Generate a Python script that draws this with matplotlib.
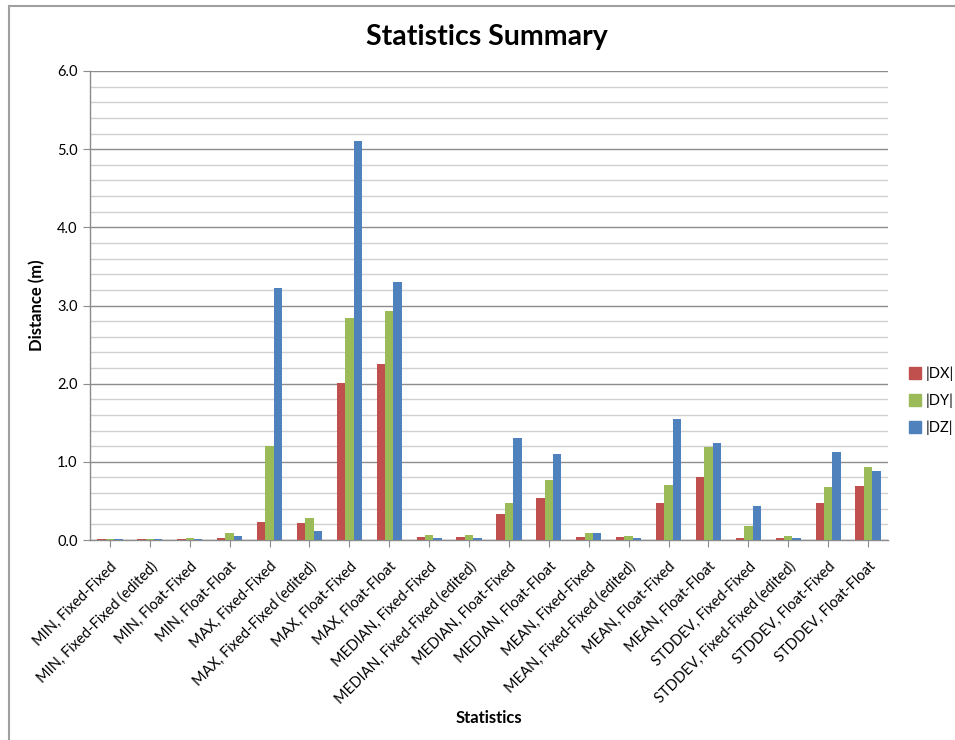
import matplotlib
matplotlib.use("Agg")
import matplotlib.pyplot as plt
from matplotlib.ticker import MultipleLocator, FormatStrFormatter
from matplotlib.patches import Rectangle
from matplotlib.lines import Line2D
import numpy as np

plt.rcParams['font.family'] = ['Lato', 'DejaVu Sans']

categories = [
    "MIN, Fixed-Fixed", "MIN, Fixed-Fixed (edited)", "MIN, Float-Fixed", "MIN, Float-Float",
    "MAX, Fixed-Fixed", "MAX, Fixed-Fixed (edited)", "MAX, Float-Fixed", "MAX, Float-Float",
    "MEDIAN, Fixed-Fixed", "MEDIAN, Fixed-Fixed (edited)", "MEDIAN, Float-Fixed", "MEDIAN, Float-Float",
    "MEAN, Fixed-Fixed", "MEAN, Fixed-Fixed (edited)", "MEAN, Float-Fixed", "MEAN, Float-Float",
    "STDDEV, Fixed-Fixed", "STDDEV, Fixed-Fixed (edited)", "STDDEV, Float-Fixed", "STDDEV, Float-Float",
]
dx = [0.01, 0.01, 0.01, 0.03, 0.23, 0.22, 2.01, 2.25, 0.035, 0.035, 0.33, 0.54,
      0.04, 0.04, 0.47, 0.80, 0.03, 0.03, 0.47, 0.69]
dy = [0.01, 0.01, 0.03, 0.09, 1.20, 0.28, 2.84, 2.93, 0.06, 0.06, 0.47, 0.77,
      0.09, 0.055, 0.70, 1.185, 0.18, 0.045, 0.68, 0.94]
dz = [0.01, 0.01, 0.01, 0.055, 3.23, 0.12, 5.10, 3.30, 0.02, 0.02, 1.30, 1.10,
      0.09, 0.02, 1.55, 1.245, 0.435, 0.02, 1.12, 0.88]
series_names = ["|DX|", "|DY|", "|DZ|"]
colors = ["#C0504D", "#9BBB59", "#4F81BD"]

fig = plt.figure(figsize=(9.55, 7.40), dpi=100)
fig.patch.set_facecolor("white")
W, H = 955, 740
ax = fig.add_axes([90 / W, 1 - 540 / H, (888 - 90) / W, (540 - 71) / H])

x = np.arange(len(categories))
bw = 0.21
for i, (vals, c, name) in enumerate(zip([dx, dy, dz], colors, series_names)):
    ax.bar(x + (i - 1) * bw, vals, width=bw, color=c, label=name, zorder=3,
           edgecolor='none')

ax.set_xlim(-0.5, len(categories) - 0.5)
ax.set_ylim(0, 6.0)
ax.yaxis.set_major_locator(MultipleLocator(1.0))
ax.yaxis.set_minor_locator(MultipleLocator(0.2))
ax.yaxis.set_major_formatter(FormatStrFormatter('%.1f'))
ax.grid(axis='y', which='major', color='#8c8c8c', linewidth=1.0, zorder=0)
ax.grid(axis='y', which='minor', color='#d0d0d0', linewidth=1.0, zorder=0)
ax.set_axisbelow(True)
for s in ['top', 'right']:
    ax.spines[s].set_visible(False)
for s in ['left', 'bottom']:
    ax.spines[s].set_color('#8c8c8c')
    ax.spines[s].set_linewidth(1.0)
ax.tick_params(axis='y', which='major', length=5, color='#8c8c8c', labelsize=10.5, pad=4)
ax.tick_params(axis='y', which='minor', length=0)
ax.tick_params(axis='x', length=5, color='#8c8c8c', labelsize=10.5, pad=9)
ax.set_xticks(x)
ax.set_xticklabels(categories, rotation=45, ha='right', rotation_mode='anchor')

ax.set_ylabel("Distance (m)", fontsize=12, fontweight='bold', labelpad=8)
fig.text(489 / W, 1 - 718 / H, "Statistics", fontsize=12, fontweight='bold',
         ha='center', va='center')
fig.text(487 / W, 1 - 37 / H, "Statistics Summary", fontsize=20.5, fontweight='bold',
         ha='center', va='center')

handles = [Line2D([0], [0], marker='s', linestyle='none', markersize=8,
                  markerfacecolor=c, markeredgecolor=c) for c in colors]
fig.legend(handles, series_names, loc='center left',
           bbox_to_anchor=(902 / W, 1 - 401 / H), frameon=False, fontsize=10.5,
           handletextpad=0.2, labelspacing=0.85, handlelength=1.0, borderaxespad=0)

# chart border
fig.add_artist(Rectangle((9 / W, -0.1), 1.2, 1 - 6 / H + 0.1, transform=fig.transFigure,
                         fill=False, edgecolor='#a0a0a0', linewidth=1.5))

fig.savefig("out.png", dpi=100, facecolor='white')
